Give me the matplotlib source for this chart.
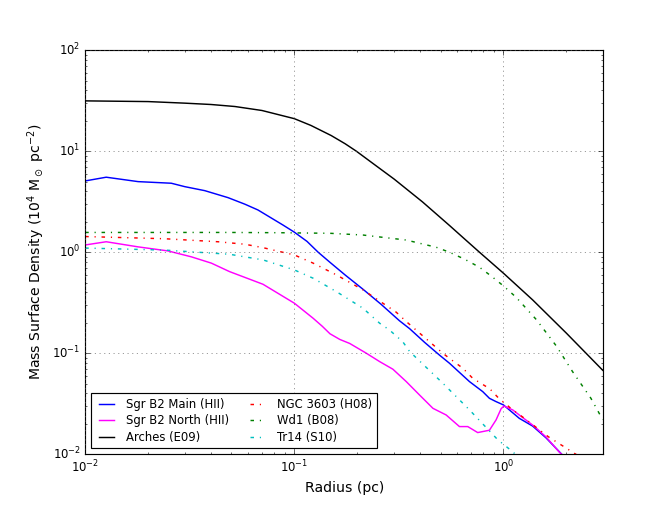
import matplotlib
matplotlib.use("Agg")
import matplotlib.pyplot as plt

# radius (pc) and surface density (1e4 Msun/pc^2)
main_r = [0.01, 0.0126, 0.0179, 0.0258, 0.0299, 0.0373, 0.0482, 0.058, 0.067, 0.0882,
          0.1, 0.115, 0.13, 0.148, 0.175, 0.213, 0.26, 0.318, 0.356, 0.42, 0.494, 0.552,
          0.688, 0.796, 0.857, 0.922, 1.0, 1.19, 1.38, 1.6, 1.9, 2.2]
main_s = [5.08, 5.53, 5.0, 4.82, 4.46, 4.07, 3.47, 2.99, 2.62, 1.86,
          1.58, 1.28, 1.0, 0.795, 0.595, 0.43, 0.305, 0.21, 0.175, 0.128, 0.096, 0.0796,
          0.0524, 0.0417, 0.0358, 0.0332, 0.0308, 0.0227, 0.019, 0.0145, 0.0100, 0.0078]

north_r = [0.01, 0.0126, 0.0179, 0.0249, 0.0322, 0.0401, 0.049, 0.0708, 0.1, 0.123,
           0.136, 0.148, 0.165, 0.184, 0.221, 0.256, 0.296, 0.343, 0.397, 0.46, 0.532,
           0.616, 0.675, 0.753, 0.857, 0.922, 0.975, 1.005, 1.107, 1.19, 1.4, 1.6, 1.85, 2.1]
north_s = [1.18, 1.27, 1.13, 1.03, 0.90, 0.78, 0.643, 0.482, 0.313, 0.222,
           0.185, 0.156, 0.137, 0.125, 0.100, 0.0826, 0.0695, 0.0524, 0.0386, 0.0285, 0.0245,
           0.0188, 0.0188, 0.0164, 0.0173, 0.0219, 0.0283, 0.030, 0.0275, 0.0245, 0.019, 0.0148, 0.0105, 0.0082]

arches_r = [0.01, 0.02, 0.03, 0.04, 0.052, 0.07, 0.1, 0.12, 0.15, 0.175, 0.198,
            0.25, 0.3, 0.35, 0.41, 0.552, 0.65, 0.768, 1.0, 1.38, 2.0, 2.98, 3.2]
arches_s = [31.5, 31.0, 29.9, 29.0, 27.7, 25.3, 21.0, 18.0, 14.3, 11.85, 10.0,
            7.0, 5.3, 4.1, 3.15, 1.84, 1.36, 1.0, 0.62, 0.337, 0.158, 0.068, 0.06]

ngc_r = [0.01, 0.024, 0.0431, 0.058, 0.0708, 0.1, 0.123, 0.159, 0.213, 0.307,
         0.343, 0.513, 0.552, 0.64, 0.713, 0.86, 0.95, 1.107, 1.26, 1.64, 2.22, 2.5]
ngc_s = [1.43, 1.36, 1.27, 1.2, 1.11, 0.94, 0.78, 0.596, 0.424, 0.255,
         0.206, 0.1, 0.089, 0.071, 0.0565, 0.0445, 0.0358, 0.0275, 0.0227, 0.0149, 0.01, 0.0085]

wd1_r = [0.01, 0.049, 0.085, 0.148, 0.213, 0.343, 0.477, 0.552, 0.652, 0.768,
         0.873, 1.0, 1.15, 1.44, 1.79, 2.14, 2.62, 2.93, 3.2]
wd1_s = [1.57, 1.57, 1.56, 1.54, 1.48, 1.32, 1.12, 1.0, 0.853, 0.71,
         0.582, 0.464, 0.358, 0.214, 0.118, 0.0658, 0.0358, 0.0235, 0.019]

tr14_r = [0.01, 0.024, 0.0346, 0.049, 0.058, 0.0708, 0.1, 0.123, 0.159, 0.213,
          0.256, 0.285, 0.33, 0.356, 0.513, 0.688, 0.94, 1.107, 1.2]
tr14_s = [1.10, 1.05, 1.0, 0.955, 0.90, 0.84, 0.668, 0.553, 0.407, 0.279,
          0.198, 0.17, 0.13, 0.104, 0.0505, 0.0275, 0.0139, 0.0106, 0.009]

plt.style.use('classic')
plt.rcParams['mathtext.fontset'] = 'dejavusans'
plt.rcParams['font.family'] = ['DejaVu Sans']
plt.rcParams['lines.linewidth'] = 1.25

fig = plt.figure(figsize=(671 / 84, 507 / 84), dpi=84, facecolor='white')
ax = fig.add_subplot(111)
fig.subplots_adjust(left=0.127, right=0.899, bottom=0.104, top=0.901)

ax.loglog(main_r, main_s, '-', color='#0000ff', label='Sgr B2 Main (HII)')
ax.loglog(north_r, north_s, '-', color='#ff00ff', label='Sgr B2 North (HII)')
ax.loglog(arches_r, arches_s, '-', color='k', label='Arches (E09)')
ax.loglog(ngc_r, ngc_s, '-.', color='#ff0000', label='NGC 3603 (H08)')
ax.loglog(wd1_r, wd1_s, '-.', color='#008000', label='Wd1 (B08)')
ax.loglog(tr14_r, tr14_s, '-.', color='#00bfbf', label='Tr14 (S10)')

ax.set_xlim(0.01, 3.0)
ax.set_ylim(0.01, 100)
ax.grid(True, color='0.35')
ax.tick_params(labelsize=10)
ax.set_xlabel('Radius (pc)', fontsize=12)
ax.set_ylabel(r'Mass Surface Density (10$^4$ M$_\odot$ pc$^{-2}$)', fontsize=12)
ax.legend(loc='lower left', ncol=2, fontsize=10, labelspacing=0.3,
          handlelength=1.9, handletextpad=0.7, columnspacing=1.5)

fig.savefig('out.png', dpi=84, facecolor='white')
